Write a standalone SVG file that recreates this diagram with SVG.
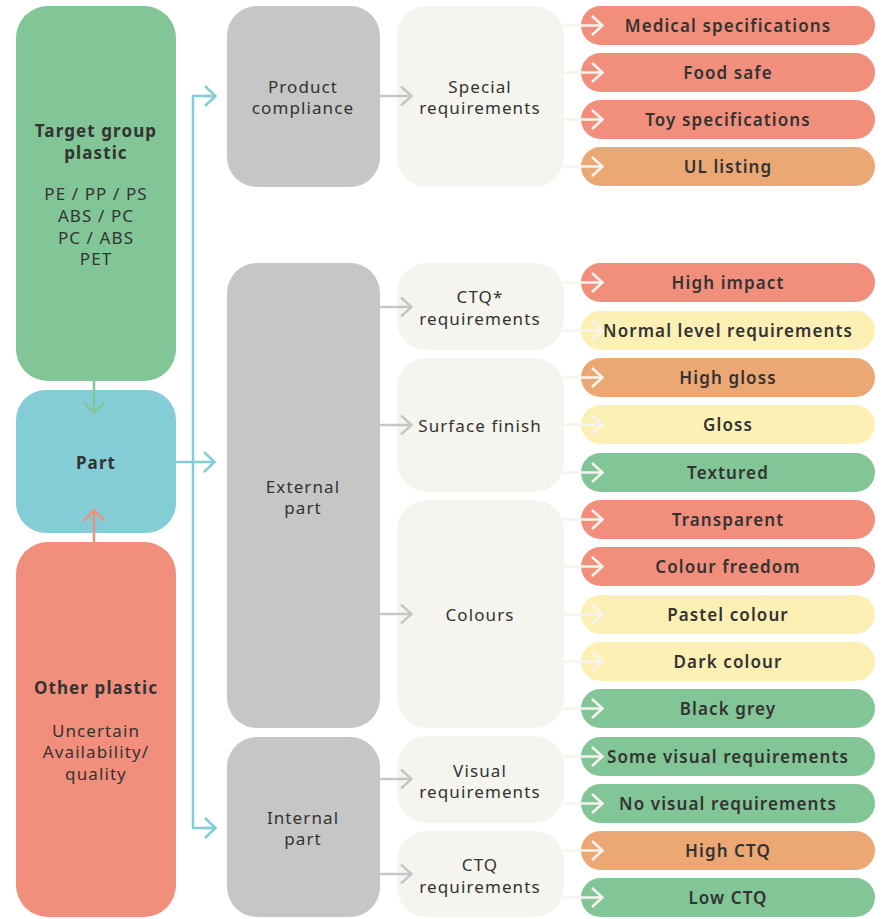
<svg xmlns="http://www.w3.org/2000/svg" width="881" height="919" viewBox="0 0 881 919">
<style>
text{font-family:"Noto Sans","Liberation Sans",sans-serif;fill:#333;text-anchor:middle;dominant-baseline:central;letter-spacing:1.1px}
.t{font-size:17px;font-weight:400}
.b{font-size:17px;font-weight:700}
.p{font-size:17px;font-weight:600}
.green{fill:#82c596}.blue{fill:#84cdd6}.red{fill:#f28f7c}.orange{fill:#eca874}.yellow{fill:#fdf0b5}.grey{fill:#c6c6c6}.light{fill:#f5f4ee}
.cw{stroke:#f5f4ee;stroke-width:2.5;fill:none}
.cg{stroke:#c6c6c6;stroke-width:2.5;fill:none}
.cb{stroke:#84cdd6;stroke-width:2.5;fill:none}
.cgr{stroke:#82c596;stroke-width:2.5;fill:none}
.cr{stroke:#f28f7c;stroke-width:2.5;fill:none}
</style>
<defs>
<marker id="mw" markerUnits="userSpaceOnUse" markerWidth="14" markerHeight="22" refX="12" refY="11" orient="auto"><path d="M1,1.5 L11.5,11 L1,20.5" fill="none" stroke="#f5f4ee" stroke-width="2.5"/></marker>
<marker id="mg" markerUnits="userSpaceOnUse" markerWidth="14" markerHeight="22" refX="12" refY="11" orient="auto"><path d="M1,1.5 L11.5,11 L1,20.5" fill="none" stroke="#c6c6c6" stroke-width="2.5"/></marker>
<marker id="mb" markerUnits="userSpaceOnUse" markerWidth="14" markerHeight="22" refX="12" refY="11" orient="auto"><path d="M1,1 L11.5,11 L1,21" fill="none" stroke="#84cdd6" stroke-width="2.5"/></marker>
<marker id="mgr" markerUnits="userSpaceOnUse" markerWidth="14" markerHeight="24" refX="12" refY="12" orient="auto"><path d="M1,1.5 L12,12 L1,22.5" fill="none" stroke="#82c596" stroke-width="2.5"/></marker>
<marker id="mr" markerUnits="userSpaceOnUse" markerWidth="14" markerHeight="24" refX="12" refY="12" orient="auto"><path d="M1,1.5 L12,12 L1,22.5" fill="none" stroke="#f28f7c" stroke-width="2.5"/></marker>
</defs>

<g id="target-group">
<rect class="green" x="16" y="6" width="160" height="375" rx="32"/>
<text class="b" x="96" y="130">Target group</text>
<text class="b" x="96" y="152">plastic</text>
<text class="t" x="96" y="193">PE / PP / PS</text>
<text class="t" x="96" y="215">ABS / PC</text>
<text class="t" x="96" y="237">PC / ABS</text>
<text class="t" x="96" y="258">PET</text>
</g>
<g id="part">
<rect class="blue" x="16" y="390" width="160" height="143" rx="30"/>
<text class="b" x="96" y="462">Part</text>
</g>
<g id="other-plastic">
<rect class="red" x="16" y="542" width="160" height="375" rx="32"/>
<text class="b" x="96" y="687">Other plastic</text>
<text class="t" x="96" y="730">Uncertain</text>
<text class="t" x="96" y="751">Availability/</text>
<text class="t" x="96" y="773">quality</text>
</g>

<g id="product-compliance">
<rect class="grey" x="227" y="6" width="153" height="181" rx="30"/>
<text class="t" x="303" y="86">Product</text>
<text class="t" x="303" y="107">compliance</text>
</g>
<g id="external-part">
<rect class="grey" x="227" y="263" width="153" height="465" rx="30"/>
<text class="t" x="303" y="486">External</text>
<text class="t" x="303" y="507">part</text>
</g>
<g id="internal-part">
<rect class="grey" x="227" y="737" width="153" height="180" rx="30"/>
<text class="t" x="303" y="817">Internal</text>
<text class="t" x="303" y="838">part</text>
</g>

<g id="special-requirements">
<rect class="light" x="397" y="6" width="167" height="181" rx="30"/>
<text class="t" x="480" y="86">Special</text>
<text class="t" x="480" y="107">requirements</text>
</g>
<g id="ctq-star-requirements">
<rect class="light" x="397" y="263" width="167" height="87" rx="30"/>
<text class="t" x="480" y="296">CTQ*</text>
<text class="t" x="480" y="318">requirements</text>
</g>
<g id="surface-finish">
<rect class="light" x="397" y="358" width="167" height="134" rx="30"/>
<text class="t" x="480" y="425">Surface finish</text>
</g>
<g id="colours">
<rect class="light" x="397" y="500" width="167" height="228" rx="30"/>
<text class="t" x="480" y="614">Colours</text>
</g>
<g id="visual-requirements">
<rect class="light" x="397" y="736" width="167" height="87" rx="30"/>
<text class="t" x="480" y="770">Visual</text>
<text class="t" x="480" y="791">requirements</text>
</g>
<g id="ctq-requirements">
<rect class="light" x="397" y="831" width="167" height="86" rx="30"/>
<text class="t" x="480" y="864">CTQ</text>
<text class="t" x="480" y="886">requirements</text>
</g>

<g id="medical"><rect class="red" x="581" y="6" width="294" height="39" rx="19.5"/><text class="p" x="728" y="25.5">Medical specifications</text></g>
<g id="food-safe"><rect class="red" x="581" y="53" width="294" height="39" rx="19.5"/><text class="p" x="728" y="72.5">Food safe</text></g>
<g id="toy"><rect class="red" x="581" y="100" width="294" height="39" rx="19.5"/><text class="p" x="728" y="119.5">Toy specifications</text></g>
<g id="ul"><rect class="orange" x="581" y="147" width="294" height="39" rx="19.5"/><text class="p" x="728" y="166.5">UL listing</text></g>
<g id="high-impact"><rect class="red" x="581" y="263" width="294" height="39" rx="19.5"/><text class="p" x="728" y="282.5">High impact</text></g>
<g id="normal-level"><rect class="yellow" x="581" y="311" width="294" height="39" rx="19.5"/><text class="p" x="728" y="330.5">Normal level requirements</text></g>
<g id="high-gloss"><rect class="orange" x="581" y="358" width="294" height="39" rx="19.5"/><text class="p" x="728" y="377.5">High gloss</text></g>
<g id="gloss"><rect class="yellow" x="581" y="405" width="294" height="39" rx="19.5"/><text class="p" x="728" y="424.5">Gloss</text></g>
<g id="textured"><rect class="green" x="581" y="453" width="294" height="39" rx="19.5"/><text class="p" x="728" y="472.5">Textured</text></g>
<g id="transparent"><rect class="red" x="581" y="500" width="294" height="39" rx="19.5"/><text class="p" x="728" y="519.5">Transparent</text></g>
<g id="colour-freedom"><rect class="red" x="581" y="547" width="294" height="39" rx="19.5"/><text class="p" x="728" y="566.5">Colour freedom</text></g>
<g id="pastel"><rect class="yellow" x="581" y="595" width="294" height="39" rx="19.5"/><text class="p" x="728" y="614.5">Pastel colour</text></g>
<g id="dark"><rect class="yellow" x="581" y="642" width="294" height="39" rx="19.5"/><text class="p" x="728" y="661.5">Dark colour</text></g>
<g id="black-grey"><rect class="green" x="581" y="689" width="294" height="39" rx="19.5"/><text class="p" x="728" y="708.5">Black grey</text></g>
<g id="some-visual"><rect class="green" x="581" y="737" width="294" height="39" rx="19.5"/><text class="p" x="728" y="756.5">Some visual requirements</text></g>
<g id="no-visual"><rect class="green" x="581" y="784" width="294" height="39" rx="19.5"/><text class="p" x="728" y="803.5">No visual requirements</text></g>
<g id="high-ctq"><rect class="orange" x="581" y="831" width="294" height="39" rx="19.5"/><text class="p" x="728" y="850.5">High CTQ</text></g>
<g id="low-ctq"><rect class="green" x="581" y="878" width="294" height="39" rx="19.5"/><text class="p" x="728" y="897.5">Low CTQ</text></g>

<g id="connectors">
<path class="cgr" d="M94,381 V413" marker-end="url(#mgr)"/>
<path class="cr" d="M94,542 V510" marker-end="url(#mr)"/>
<path class="cb" d="M176,462 H215" marker-end="url(#mb)"/>
<path class="cb" d="M215,96 H193 V828 H216"/>
<path class="cb" d="M205,96 H216" marker-end="url(#mb)"/>
<path class="cb" d="M205,828 H216" marker-end="url(#mb)"/>
<path class="cg" d="M380,96 H412" marker-end="url(#mg)"/>
<path class="cg" d="M380,307 H412" marker-end="url(#mg)"/>
<path class="cg" d="M380,425 H412" marker-end="url(#mg)"/>
<path class="cg" d="M380,614 H412" marker-end="url(#mg)"/>
<path class="cg" d="M380,779 H412" marker-end="url(#mg)"/>
<path class="cg" d="M380,874 H412" marker-end="url(#mg)"/>
<path class="cw" d="M563,25.5 H603" marker-end="url(#mw)"/>
<path class="cw" d="M563,72.5 H603" marker-end="url(#mw)"/>
<path class="cw" d="M563,119.5 H603" marker-end="url(#mw)"/>
<path class="cw" d="M563,166.5 H603" marker-end="url(#mw)"/>
<path class="cw" d="M563,282.5 H603" marker-end="url(#mw)"/>
<path class="cw" d="M563,330.5 H603" marker-end="url(#mw)"/>
<path class="cw" d="M563,377.5 H603" marker-end="url(#mw)"/>
<path class="cw" d="M563,424.5 H603" marker-end="url(#mw)"/>
<path class="cw" d="M563,472.5 H603" marker-end="url(#mw)"/>
<path class="cw" d="M563,519.5 H603" marker-end="url(#mw)"/>
<path class="cw" d="M563,566.5 H603" marker-end="url(#mw)"/>
<path class="cw" d="M563,614.5 H603" marker-end="url(#mw)"/>
<path class="cw" d="M563,661.5 H603" marker-end="url(#mw)"/>
<path class="cw" d="M563,708.5 H603" marker-end="url(#mw)"/>
<path class="cw" d="M563,756.5 H603" marker-end="url(#mw)"/>
<path class="cw" d="M563,803.5 H603" marker-end="url(#mw)"/>
<path class="cw" d="M563,850.5 H603" marker-end="url(#mw)"/>
<path class="cw" d="M563,897.5 H603" marker-end="url(#mw)"/>
</g>
</svg>
